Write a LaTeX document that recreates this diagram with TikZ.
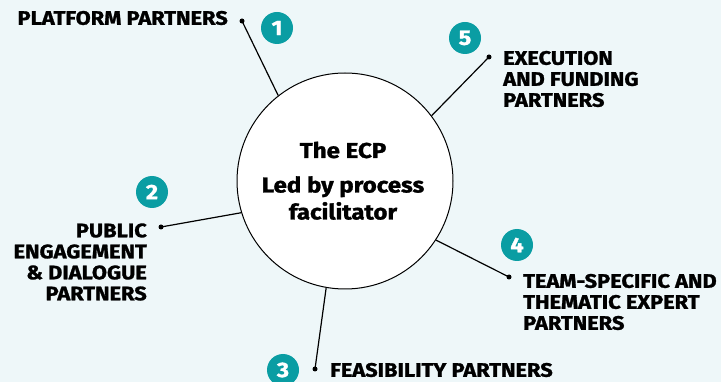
\documentclass[tikz,border=0pt]{standalone}
\usepackage{fontspec}
\setmainfont{Fira Sans}[BoldFeatures={FakeBold=1.3,FakeStretch=1.12}]
\definecolor{bgblue}{HTML}{EEF7F9}
\definecolor{teal}{HTML}{0A9DA3}
\begin{document}
\begin{tikzpicture}[x=1pt,y=-1pt,
  label/.style={font=\bfseries\fontsize{19.5}{21}\selectfont, inner sep=0pt, text=black},
  badge/.style={circle, fill=teal, minimum size=32pt, inner sep=0pt, text=white,
    font=\bfseries\fontsize{21}{21}\selectfont},
  hubtext/.style={font=\bfseries\fontsize{21.5}{27}\selectfont, align=center, inner sep=0pt},
  dot/.style={circle, fill=black, minimum size=5pt, inner sep=0pt},
  link/.style={line width=1.2pt, black}]
  \fill[bgblue] (0,0) rectangle (721,382);
  \useasboundingbox (0,0) rectangle (721,382);

  % central circle
  \node[circle, draw=black, line width=1pt, fill=white, minimum size=216pt, inner sep=0pt] (hub) at (345,181) {};
  \node[hubtext] (title) at (343,150) {The ECP};
  \node[hubtext] (sub) at (343,198) {Led by process\\facilitator};

  % attachment points on the circle
  \coordinate (c1) at (hub.128.2);
  \coordinate (c2) at (hub.197.3);
  \coordinate (c3) at (hub.260.5);
  \coordinate (c4) at (hub.-33.5);
  \coordinate (c5) at (hub.37.2);

  % 1 platform
  \node[dot] (d1) at (242,21) {};
  \node[badge] (b1) at (277,28) {1};
  \node[label, anchor=east] (t1) at (228,18) {PLATFORM PARTNERS};
  \draw[link] (d1.center) -- (c1);

  % 2 public engagement
  \node[dot] (d2) at (161,227) {};
  \node[badge] (b2) at (152,192) {2};
  \node[label, anchor=east, align=right] (t2) at (147,262) {PUBLIC\\ENGAGEMENT\\\& DIALOGUE\\PARTNERS};
  \draw[link] (d2.center) -- (c2);

  % 3 feasibility
  \node[dot] (d3) at (315,369) {};
  \node[badge] (b3) at (283,370) {3};
  \node[label, anchor=west] (t3) at (330,370) {FEASIBILITY PARTNERS};
  \draw[link] (d3.center) -- (c3);

  % 4 thematic experts
  \node[dot] (d4) at (509,277) {};
  \node[badge] (b4) at (517,245) {4};
  \node[label, anchor=west, align=left] (t4) at (523,302) {TEAM-SPECIFIC AND\\THEMATIC EXPERT\\PARTNERS};
  \draw[link] (d4.center) -- (c4);

  % 5 execution and funding
  \node[dot] (d5) at (489,57) {};
  \node[badge] (b5) at (465,38) {5};
  \node[label, anchor=west, align=left] (t5) at (503,79) {EXECUTION\\AND FUNDING\\PARTNERS};
  \draw[link] (d5.center) -- (c5);
\end{tikzpicture}
\end{document}
